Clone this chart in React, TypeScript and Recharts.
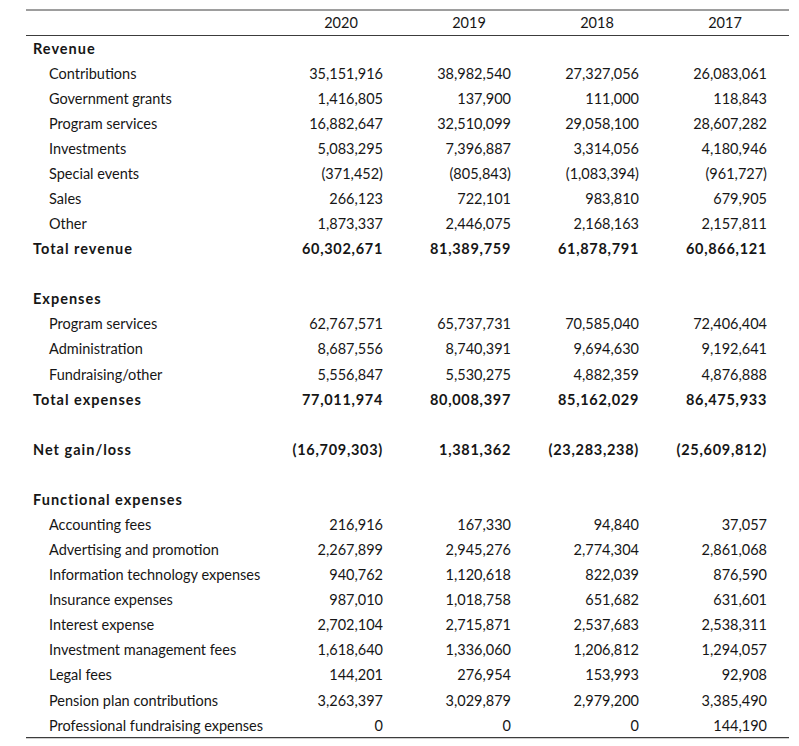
import React from 'react';
import { ComposedChart, XAxis, YAxis, Scatter } from 'recharts';

const years = ['2020', '2019', '2018', '2017'];

// row label, style: 'h' = section header, 'i' = indented item, 't' = total, 'b' = blank
const rowLabels: string[] = [
  'Revenue', 'Contributions', 'Government grants', 'Program services', 'Investments',
  'Special events', 'Sales', 'Other', 'Total revenue', '',
  'Expenses', 'Program services', 'Administration', 'Fundraising/other', 'Total expenses', '',
  'Net gain/loss', '',
  'Functional expenses', 'Accounting fees', 'Advertising and promotion',
  'Information technology expenses', 'Insurance expenses', 'Interest expense',
  'Investment management fees', 'Legal fees', 'Pension plan contributions',
  'Professional fundraising expenses',
];
const rowStyles: string[] = [
  'h', 'i', 'i', 'i', 'i', 'i', 'i', 'i', 't', 'b',
  'h', 'i', 'i', 'i', 't', 'b',
  't', 'b',
  'h', 'i', 'i', 'i', 'i', 'i', 'i', 'i', 'i', 'i',
];

const v2020: (number | null)[] = [
  null, 35151916, 1416805, 16882647, 5083295, -371452, 266123, 1873337, 60302671, null,
  null, 62767571, 8687556, 5556847, 77011974, null,
  -16709303, null,
  null, 216916, 2267899, 940762, 987010, 2702104, 1618640, 144201, 3263397, 0,
];
const v2019: (number | null)[] = [
  null, 38982540, 137900, 32510099, 7396887, -805843, 722101, 2446075, 81389759, null,
  null, 65737731, 8740391, 5530275, 80008397, null,
  1381362, null,
  null, 167330, 2945276, 1120618, 1018758, 2715871, 1336060, 276954, 3029879, 0,
];
const v2018: (number | null)[] = [
  null, 27327056, 111000, 29058100, 3314056, -1083394, 983810, 2168163, 61878791, null,
  null, 70585040, 9694630, 4882359, 85162029, null,
  -23283238, null,
  null, 94840, 2774304, 822039, 651682, 2537683, 1206812, 153993, 2979200, 0,
];
const v2017: (number | null)[] = [
  null, 26083061, 118843, 28607282, 4180946, -961727, 679905, 2157811, 60866121, null,
  null, 72406404, 9192641, 4876888, 86475933, null,
  -25609812, null,
  null, 37057, 2861068, 876590, 631601, 2538311, 1294057, 92908, 3385490, 144190,
];

const seriesValues = [v2020, v2019, v2018, v2017];

const FONT = 'Lato, "Open Sans", sans-serif';
const INK = '#161616';
const RULE = '#3c3c3c';
const FS = 14.5;

const fmt = (v: number) => {
  const s = Math.abs(v).toLocaleString('en-US');
  return v < 0 ? `(${s})` : s;
};

const rowKey = (i: number) => `r${i}`;

const seriesData = years.map((y, si) =>
  rowLabels.map((_, i) => ({
    year: y,
    key: rowKey(i),
    value: seriesValues[si][i],
    style: rowStyles[i],
  }))
);

const YTick = (props: any) => {
  const idx = parseInt(String(props.payload.value).slice(1), 10);
  const label = rowLabels[idx];
  const style = rowStyles[idx];
  if (!label) return <g />;
  const bold = style === 'h' || style === 't';
  const x = style === 'i' ? 49 : 33;
  return (
    <text
      x={x}
      y={props.y}
      dominantBaseline="central"
      fontFamily={FONT}
      fontSize={FS}
      fontWeight={bold ? 700 : 400}
      letterSpacing={bold ? 1 : 0}
      fill={INK}
    >
      {label}
    </text>
  );
};

const XTick = (props: any) => (
  <text
    x={props.x}
    y={props.y - 13}
    textAnchor="middle"
    dominantBaseline="central"
    fontFamily={FONT}
    fontSize={FS}
    fill={INK}
  >
    {props.payload.value}
  </text>
);

const CellText = (props: any) => {
  const p = props.payload;
  if (!p || p.value === null || p.value === undefined) return <g />;
  const bold = p.style === 't';
  return (
    <text
      x={props.cx + 42}
      y={props.cy}
      textAnchor="end"
      dominantBaseline="central"
      fontFamily={FONT}
      fontSize={FS}
      fontWeight={bold ? 700 : 400}
      letterSpacing={bold ? 0.7 : 0}
      fill={INK}
    >
      {fmt(p.value)}
    </text>
  );
};

export default function App() {
  return (
    <div style={{ position: 'absolute', left: 0, top: 0, background: '#fff' }}>
      <ComposedChart
        width={799}
        height={746}
        margin={{ top: 9, right: 10, bottom: 7.4, left: 26 }}
      >
        <XAxis
          xAxisId="h"
          orientation="top"
          type="category"
          dataKey="year"
          allowDuplicatedCategory={false}
          height={25.5}
          padding={{ left: 315, right: 64 }}
          tickLine={false}
          tickSize={0}
          tickMargin={0}
          axisLine={{ stroke: RULE, strokeWidth: 1 }}
          tick={<XTick />}
          interval={0}
        />
        <XAxis
          xAxisId="rule"
          orientation="top"
          type="number"
          domain={[0, 1]}
          height={1}
          tick={false}
          tickLine={false}
          axisLine={{ stroke: RULE, strokeWidth: 1 }}
        />
        <XAxis
          xAxisId="bot"
          orientation="bottom"
          type="number"
          domain={[0, 1]}
          height={1}
          tick={false}
          tickLine={false}
          axisLine={{ stroke: RULE, strokeWidth: 1.3 }}
        />
        <YAxis
          type="category"
          dataKey="key"
          allowDuplicatedCategory={false}
          reversed
          mirror
          width={60}
          padding={{ top: 12.5, bottom: 12.5 }}
          tickLine={false}
          axisLine={false}
          interval={0}
          tick={<YTick />}
        />
        {seriesData.map((d, i) => (
          <Scatter
            key={years[i]}
            xAxisId="h"
            data={d}
            dataKey="value"
            isAnimationActive={false}
            shape={<CellText />}
          />
        ))}
      </ComposedChart>
    </div>
  );
}
